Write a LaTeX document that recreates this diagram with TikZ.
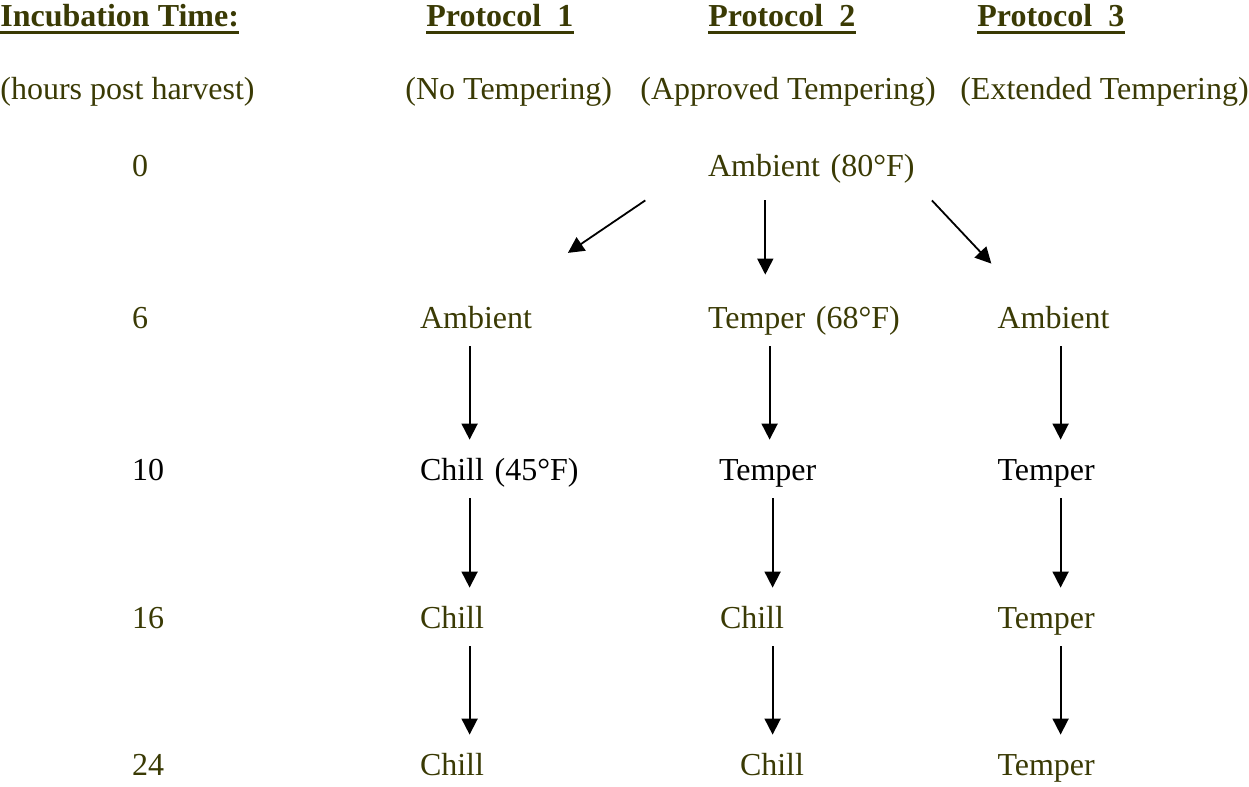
\documentclass[tikz,border=0pt]{standalone}
\usepackage{fontspec}
\setmainfont{Liberation Serif}
\usetikzlibrary{arrows.meta}
\definecolor{Ocolor}{HTML}{3A3A04}
\tikzstyle{head} = [inner sep=0pt, anchor=base west, font=\bfseries, text depth=2.4pt, color=Ocolor]
\tikzstyle{sub} = [inner sep=0pt, anchor=base west, color=Ocolor]
\tikzstyle{hour} = [inner sep=0pt, text width=20pt, align=left, text height=12pt, text depth=4pt, color=Ocolor]
\tikzstyle{cell} = [inner sep=0pt, text width=110pt, align=left, text height=12pt, text depth=4pt, color=Ocolor]
\tikzstyle{arrow} = [line width=0.9pt, ->, >={Triangle[length=8pt,width=8pt]}]
\tikzstyle{vert} = [arrow, shorten <=5pt, shorten >=8pt]
\tikzstyle{uline} = [line width=1.5pt, color=Ocolor]
\begin{document}
\fontsize{16pt}{19pt}\selectfont
\begin{tikzpicture}[node distance=76pt]
\useasboundingbox (0,0) rectangle (624.5pt,-393.5pt);

\node (inc) [head] at (0pt,-13.4pt) {Incubation Time:};
\node (prot1) [head] at (213pt,-13.4pt) {Protocol\ \ 1};
\node (prot2) [head] at (354pt,-13.4pt) {Protocol\ \ 2};
\node (prot3) [head] at (488.5pt,-13.4pt) {Protocol\ \ 3};
\foreach \n in {inc,prot1,prot2,prot3}
  \draw [uline] (\n.south west) -- (\n.south east);

\node (hrs) [sub] at (0pt,-49.5pt) {(hours post harvest)};
\node (sub1) [sub] at (202.5pt,-49.5pt) {(No Tempering)};
\node (sub2) [sub] at (320pt,-49.5pt) {(Approved Tempering)};
\node (sub3) [sub, anchor=base east] at (624.5pt,-49.5pt) {(Extended Tempering)};

% hours
\node (h0) [hour] at (76pt,-84pt) {0};
\node (h6) [hour, below of=h0] {6};
\node (h10) [hour, below of=h6, color=black] {10};
\node (h16) [hour, below of=h10, yshift=2pt] {16};
\node (h24) [hour, below of=h16, yshift=2.5pt] {24};

\node (p2h0) [cell, right of=h0, xshift=257pt] {Ambient (80°F)};

\node (p1h6) [cell, right of=h6, xshift=113pt] {Ambient};
\node (p2h6) [cell, below of=p2h0] {Temper (68°F)};
\node (p3h6) [cell, right of=p2h6, xshift=68.75pt] {Ambient};

\node (p1h10) [cell, below of=p1h6, color=black] {Chill (45°F)};
\node (p2h10) [cell, below of=p2h6, xshift=5.5pt, color=black] {Temper};
\node (p3h10) [cell, below of=p3h6, color=black] {Temper};

\node (p1h16) [cell, below of=p1h10, yshift=2pt] {Chill};
\node (p2h16) [cell, below of=p2h10, xshift=0.5pt, yshift=2pt] {Chill};
\node (p3h16) [cell, below of=p3h10, yshift=2pt] {Temper};

\node (p1h24) [cell, below of=p1h16, yshift=2.5pt] {Chill};
\node (p2h24) [cell, below of=p2h16, xshift=10pt, yshift=2.5pt] {Chill};
\node (p3h24) [cell, below of=p3h16, yshift=2.5pt] {Temper};

\draw [arrow] ([xshift=-31.15pt,yshift=-8pt]p2h0.south west) -- ([xshift=74.15pt,yshift=25.35pt]p1h6.north west);
\draw [arrow] ([xshift=28.85pt,yshift=-8pt]p2h0.south west) -- ([xshift=28.85pt,yshift=14.5pt]p2h6.north west);
\draw [arrow] ([xshift=112.15pt,yshift=-8pt]p2h0.south west) -- ([xshift=-2.9pt,yshift=20pt]p3h6.north west);

\foreach \a/\b in {h6/h10,h10/h16,h16/h24}{
  \draw [vert] ([xshift=25pt]p1\a.south west) -- ([xshift=25pt]p1\b.north west);
  \draw [vert] ([xshift=31.75pt]p3\a.south west) -- ([xshift=31.75pt]p3\b.north west);
}
\draw [vert] ([xshift=31pt]p2h6.south west) -- ([xshift=25.5pt]p2h10.north west);
\draw [vert] ([xshift=27pt]p2h10.south west) -- ([xshift=26.5pt]p2h16.north west);
\draw [vert] ([xshift=26.5pt]p2h16.south west) -- ([xshift=16.5pt]p2h24.north west);

\end{tikzpicture}
\end{document}
